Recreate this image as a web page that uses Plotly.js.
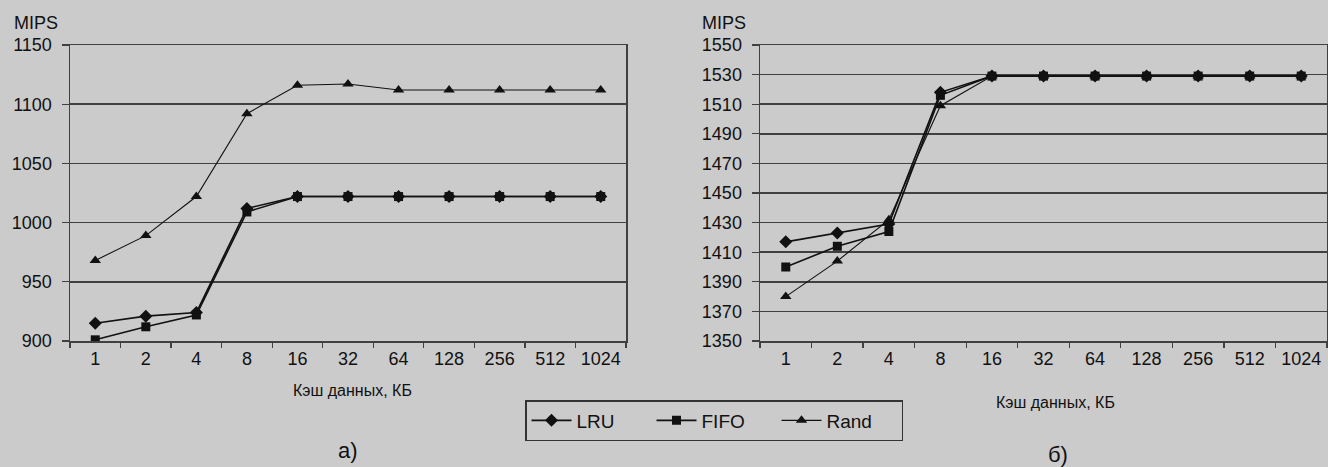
<!DOCTYPE html>
<html>
<head>
<meta charset="utf-8">
<script src="https://cdn.plot.ly/plotly-3.0.1.min.js"></script>
<style>html,body{margin:0;padding:0;background:#cbcbcb;}#chart{width:1328px;height:467px;}</style>
</head>
<body>
<div id="chart"></div>
<script>
// Categories: data cache size, KB
const categories = ['1','2','4','8','16','32','64','128','256','512','1024'];
const seriesNames = ['LRU','FIFO','Rand'];

// Chart а)
const a_LRU  = [915, 921, 924, 1012, 1022, 1022, 1022, 1022, 1022, 1022, 1022];
const a_FIFO = [901, 912, 922, 1009, 1022, 1022, 1022, 1022, 1022, 1022, 1022];
const a_Rand = [968, 989, 1022, 1092, 1116, 1117, 1112, 1112, 1112, 1112, 1112];

// Chart б)
const b_LRU  = [1417, 1423, 1429, 1518, 1529, 1529, 1529, 1529, 1529, 1529, 1529];
const b_FIFO = [1400, 1414, 1424, 1516, 1529, 1529, 1529, 1529, 1529, 1529, 1529];
const b_Rand = [1380, 1404, 1432, 1509, 1529, 1529, 1529, 1529, 1529, 1529, 1529];

const yTitle = 'MIPS';
const xTitle = 'Кэш данных, КБ';
const panelA = 'а)';
const panelB = 'б)';

const ink = '#111111';
const symbols = ['diamond','square','triangle-up'];
const sizes = [10, 9, 10];
const widths = [1.6, 1.6, 1.1];

function mk(y, i, xa, ya, show) {
  return {
    x: categories, y: y, name: seriesNames[i], type: 'scatter', mode: 'lines+markers',
    xaxis: xa, yaxis: ya, showlegend: show,
    line: {color: ink, width: widths[i]},
    marker: {symbol: symbols[i], size: sizes[i], color: ink}
  };
}

const traces = [
  mk(a_LRU, 0, 'x', 'y', true),
  mk(a_FIFO, 1, 'x', 'y', true),
  mk(a_Rand, 2, 'x', 'y', true),
  mk(b_LRU, 0, 'x2', 'y2', false),
  mk(b_FIFO, 1, 'x2', 'y2', false),
  mk(b_Rand, 2, 'x2', 'y2', false)
];

const W = 1328, H = 467;
const px = v => v / W;
const py = v => (H - v) / H;

const FAM = 'Liberation Sans, Arial, sans-serif';
const tickFont = {family: FAM, size: 18, color: ink};
const gridC = '#404040';

function xAx(d0, d1, anchor) {
  return {
    domain: [px(d0), px(d1)], anchor: anchor, type: 'category',
    range: [-0.5, 10.5], showgrid: false, zeroline: false,
    showline: true, linecolor: gridC, linewidth: 1.5, mirror: true,
    ticks: 'outside', tickson: 'boundaries', ticklen: 5, tickcolor: gridC, tickwidth: 1.2,
    tickfont: tickFont, ticklabelstandoff: 1, fixedrange: true
  };
}
function yAx(r, dt, anchor) {
  return {
    domain: [py(341), py(45)], anchor: anchor, range: r, dtick: dt, tick0: r[0],
    showgrid: true, gridcolor: gridC, gridwidth: 1.5, zeroline: false,
    showline: true, linecolor: gridC, linewidth: 1.5, mirror: true,
    ticks: 'outside', ticklen: 7, tickcolor: gridC, tickwidth: 1.2,
    tickfont: tickFont, ticklabelstandoff: 6, fixedrange: true
  };
}

function ann(text, x, y, size) {
  return {text: text, x: px(x), y: py(y), xref: 'paper', yref: 'paper', showarrow: false,
          xanchor: 'center', yanchor: 'middle', font: {family: FAM, size: size, color: ink}};
}
const layout = {
  width: W, height: H,
  margin: {l: 0, r: 0, t: 0, b: 0},
  paper_bgcolor: '#cbcbcb', plot_bgcolor: '#cbcbcb',
  xaxis: xAx(70, 626, 'y'),
  yaxis: yAx([900, 1150], 50, 'x'),
  xaxis2: xAx(760, 1327, 'y2'),
  yaxis2: yAx([1350, 1550], 20, 'x2'),
  showlegend: true,
  legend: {
    orientation: 'h', x: px(525), xanchor: 'left', y: py(400), yanchor: 'top',
    bordercolor: '#333', borderwidth: 1.5, bgcolor: 'rgba(0,0,0,0)',
    font: {family: FAM, size: 19, color: ink},
    entrywidth: 70, entrywidthmode: 'pixels', itemwidth: 40
  },
  annotations: [
    ann(yTitle, 36, 23, 18),
    ann(yTitle, 724, 23, 18),
    ann(xTitle, 352, 390, 16),
    ann(xTitle, 1055, 402, 16),
    ann(panelA, 348, 450, 22),
    ann(panelB, 1058, 454, 22)
  ]
};

Plotly.newPlot('chart', traces, layout, {displayModeBar: false, staticPlot: true});
</script>
</body>
</html>
